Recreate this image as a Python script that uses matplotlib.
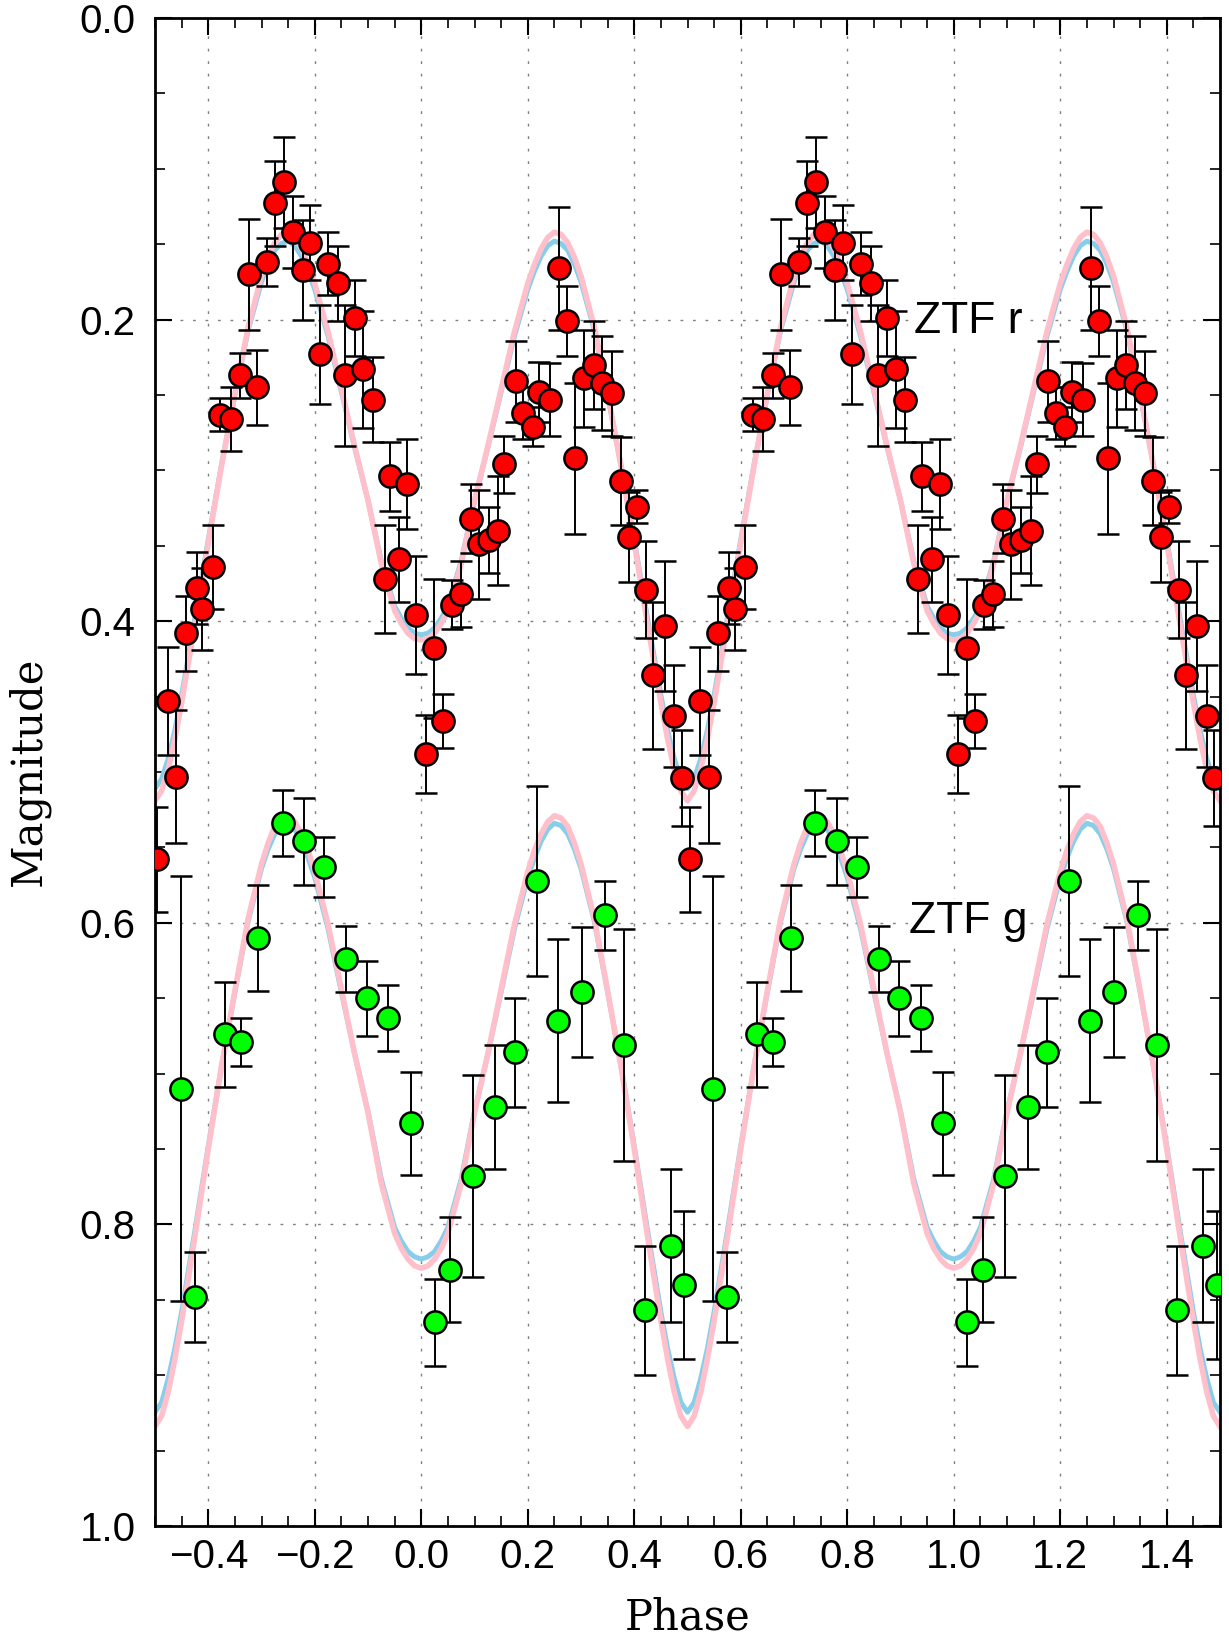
import numpy as np
import matplotlib.pyplot as plt
from matplotlib.ticker import MultipleLocator, FuncFormatter

# ZTF r : phase, magnitude, error (one cycle, drawn twice)
r_phase = [-0.496, -0.476, -0.460, -0.442, -0.422, -0.411, -0.392, -0.377, -0.358, -0.340,
           -0.324, -0.308, -0.290, -0.275, -0.258, -0.241, -0.223, -0.208, -0.191, -0.175,
           -0.156, -0.143, -0.125, -0.109, -0.091, -0.068, -0.059, -0.041, -0.026, -0.010,
           0.008, 0.024, 0.040, 0.057, 0.074, 0.093, 0.108, 0.127, 0.145, 0.156,
           0.177, 0.192, 0.209, 0.222, 0.242, 0.258, 0.273, 0.289, 0.306, 0.324,
           0.340, 0.359, 0.375, 0.390, 0.405, 0.423, 0.436, 0.457, 0.475, 0.489]
r_mag = [0.558, 0.453, 0.503, 0.408, 0.378, 0.392, 0.364, 0.263, 0.266, 0.237,
         0.170, 0.245, 0.162, 0.123, 0.109, 0.142, 0.167, 0.149, 0.223, 0.163,
         0.176, 0.237, 0.199, 0.233, 0.253, 0.372, 0.304, 0.359, 0.309, 0.396,
         0.488, 0.418, 0.466, 0.389, 0.382, 0.332, 0.349, 0.346, 0.340, 0.296,
         0.241, 0.262, 0.271, 0.248, 0.253, 0.166, 0.201, 0.292, 0.239, 0.230,
         0.242, 0.249, 0.307, 0.344, 0.324, 0.379, 0.436, 0.403, 0.463, 0.504]
r_err = [0.035, 0.036, 0.044, 0.025, 0.024, 0.027, 0.028, 0.011, 0.021, 0.015,
         0.037, 0.025, 0.016, 0.028, 0.030, 0.024, 0.033, 0.025, 0.033, 0.021,
         0.025, 0.047, 0.025, 0.039, 0.028, 0.036, 0.023, 0.028, 0.030, 0.039,
         0.026, 0.046, 0.018, 0.016, 0.022, 0.023, 0.036, 0.022, 0.036, 0.019,
         0.027, 0.017, 0.013, 0.020, 0.024, 0.041, 0.023, 0.050, 0.032, 0.029,
         0.031, 0.028, 0.029, 0.030, 0.011, 0.032, 0.049, 0.043, 0.034, 0.032]

# ZTF g
g_phase = [-0.452, -0.425, -0.369, -0.339, -0.306, -0.260, -0.220, -0.182, -0.141, -0.102,
           -0.062, -0.020, 0.025, 0.054, 0.097, 0.139, 0.176, 0.217, 0.256, 0.301,
           0.346, 0.381, 0.420, 0.469, 0.494]
g_mag = [0.710, 0.848, 0.674, 0.679, 0.610, 0.534, 0.546, 0.563, 0.624, 0.650,
         0.663, 0.733, 0.865, 0.830, 0.768, 0.722, 0.686, 0.572, 0.665, 0.646,
         0.595, 0.681, 0.857, 0.814, 0.840]
g_err = [0.141, 0.030, 0.035, 0.016, 0.035, 0.022, 0.029, 0.020, 0.022, 0.025,
         0.022, 0.034, 0.029, 0.035, 0.067, 0.041, 0.036, 0.063, 0.054, 0.043,
         0.023, 0.077, 0.043, 0.051, 0.049]

curve_phase = [0.0, 0.0125, 0.025, 0.0375, 0.05, 0.075, 0.1, 0.125, 0.15, 0.175, 0.2,
               0.2125, 0.225, 0.2375, 0.25, 0.2625, 0.275, 0.2875, 0.3,
               0.325, 0.35, 0.375, 0.4, 0.425, 0.45, 0.4625, 0.475, 0.4875, 0.5]
r_pink = [0.4125, 0.4115, 0.408, 0.4015, 0.393, 0.362, 0.320, 0.284, 0.246, 0.208, 0.176,
          0.1635, 0.1530, 0.1455, 0.142, 0.1435, 0.149, 0.1585, 0.171,
          0.205, 0.249, 0.297, 0.348, 0.402, 0.454, 0.478, 0.498, 0.5125, 0.519]
r_blue = [0.409, 0.408, 0.4045, 0.398, 0.390, 0.360, 0.320, 0.285, 0.248, 0.211, 0.180,
          0.168, 0.158, 0.151, 0.148, 0.1495, 0.154, 0.163, 0.175,
          0.207, 0.250, 0.296, 0.346, 0.398, 0.449, 0.472, 0.491, 0.5045, 0.511]
g_pink = [0.829, 0.8275, 0.823, 0.816, 0.806, 0.773, 0.726, 0.687, 0.644, 0.601, 0.566,
          0.552, 0.541, 0.533, 0.529, 0.5305, 0.536, 0.547, 0.561,
          0.597, 0.645, 0.695, 0.750, 0.808, 0.864, 0.889, 0.911, 0.927, 0.934]
g_blue = [0.823, 0.8215, 0.818, 0.811, 0.802, 0.770, 0.725, 0.687, 0.646, 0.604, 0.570,
          0.557, 0.546, 0.538, 0.534, 0.5355, 0.541, 0.551, 0.564,
          0.599, 0.646, 0.695, 0.748, 0.804, 0.858, 0.882, 0.902, 0.918, 0.9245]


def full_curve(vals):
    ph = np.array(curve_phase)
    v = np.array(vals)
    ph = np.concatenate([-ph[::-1], ph[1:]])
    v = np.concatenate([v[::-1], v[1:]])
    x = np.concatenate([ph - 1, ph, ph + 1])
    y = np.concatenate([v, v, v])
    return x, y


def fmt1(v, pos):
    return ('%.1f' % v).replace('-', '\u2212')


fig = plt.figure(figsize=(12.29, 16.38), dpi=100)
ax = fig.add_axes([155/1229, 1-1526/1638, 1065/1229, 1508/1638])

for blue, pink in [(r_blue, r_pink), (g_blue, g_pink)]:
    x, y = full_curve(blue)
    ax.plot(x, y, color='skyblue', lw=3.6, zorder=2, solid_joinstyle='round')
    x, y = full_curve(pink)
    ax.plot(x, y, color='pink', lw=4.0, zorder=2.1, solid_joinstyle='round')

for ph, mag, err, col in [(r_phase, r_mag, r_err, '#ff0000'), (g_phase, g_mag, g_err, '#00ff00')]:
    ph = np.array(ph)
    for shift in (0, 1):
        ax.errorbar(ph + shift, mag, yerr=err, fmt='o', ms=16, mfc=col, mec='black', mew=1.8,
                    ecolor='black', elinewidth=1.4, capsize=8, capthick=1.4, zorder=3)

ax.text(0.925, 0.201, 'ZTF r', fontsize=32, family='Liberation Sans', va='center', ha='left',
        bbox=dict(facecolor='white', edgecolor='none', pad=1), zorder=2.5)
ax.text(0.916, 0.599, 'ZTF g', fontsize=32, family='Liberation Sans', va='center', ha='left',
        bbox=dict(facecolor='white', edgecolor='none', pad=1), zorder=2.5)

ax.set_xlim(-0.5, 1.5)
ax.set_ylim(1.0, 0.0)
ax.xaxis.set_major_locator(MultipleLocator(0.2))
ax.xaxis.set_minor_locator(MultipleLocator(0.05))
ax.yaxis.set_major_locator(MultipleLocator(0.2))
ax.yaxis.set_minor_locator(MultipleLocator(0.05))
ax.xaxis.set_major_formatter(FuncFormatter(fmt1))
ax.yaxis.set_major_formatter(FuncFormatter(fmt1))
ax.tick_params(which='both', direction='in', top=True, right=True)
ax.tick_params(which='major', length=12, width=1.5)
ax.tick_params(which='minor', length=7, width=1.2)
ax.tick_params(axis='x', pad=9)
ax.tick_params(axis='y', pad=14)
for lab in ax.get_xticklabels() + ax.get_yticklabels():
    lab.set_family('Liberation Sans')
    lab.set_fontsize(29)
for sp in ax.spines.values():
    sp.set_linewidth(2.0)
ax.grid(True, which='major', color='gray', linestyle=(0, (2, 7)), linewidth=1.0)
ax.set_axisbelow(True)

fig.text(688/1229, 1-1617/1638, 'Phase', family='DejaVu Serif', fontsize=30, ha='center', va='center')
fig.text(29/1229, 1-771/1638, 'Magnitude', family='DejaVu Serif', fontsize=30, ha='center', va='center',
         rotation=90)

fig.savefig('out.png', dpi=100)
